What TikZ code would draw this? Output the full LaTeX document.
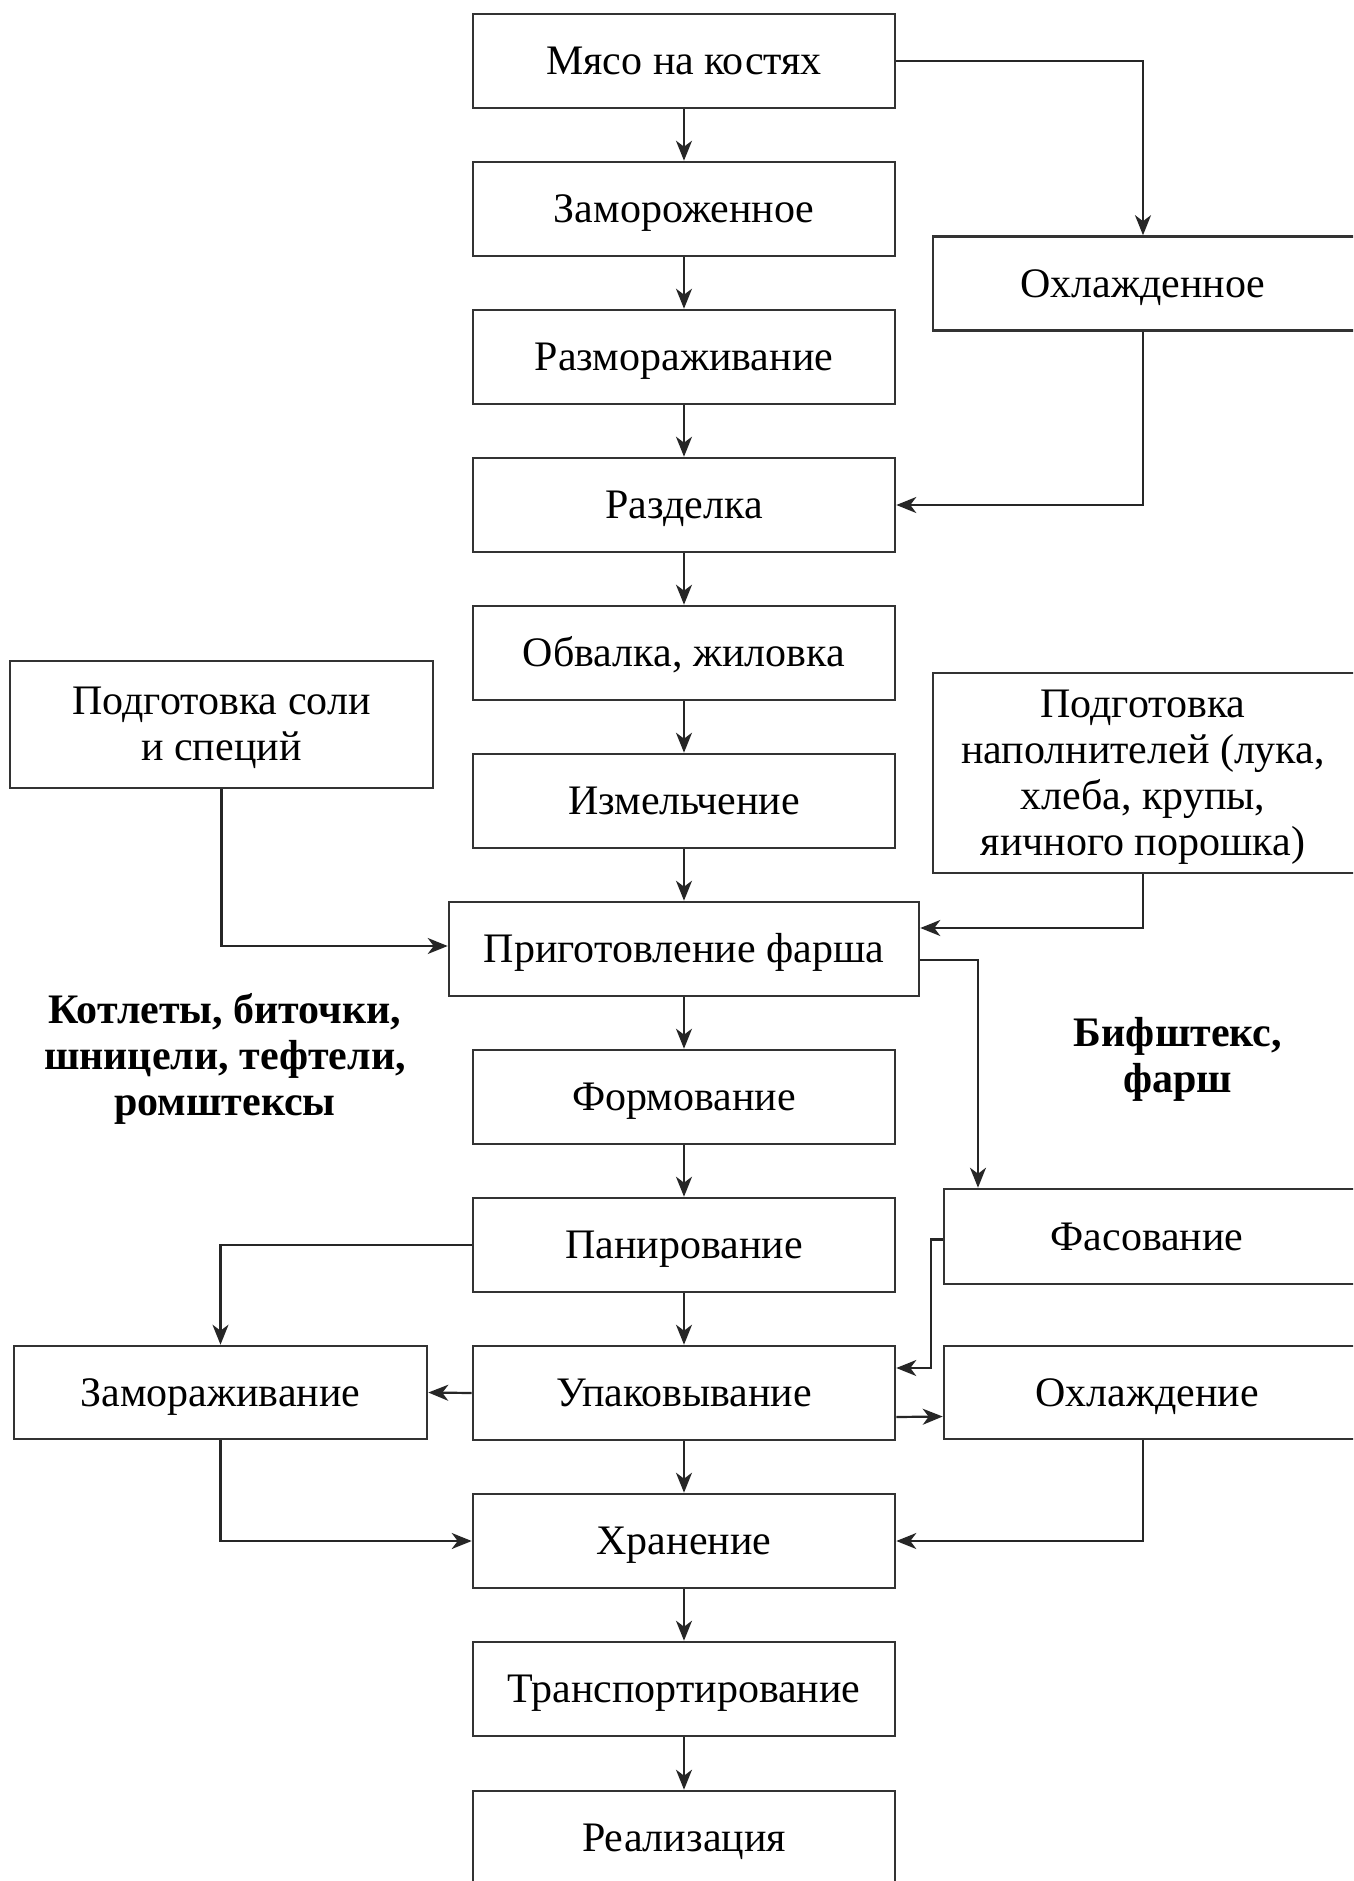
\documentclass[tikz,border=0pt]{standalone}
\usepackage{fontspec}
\setmainfont{Liberation Serif}
\usetikzlibrary{arrows.meta}
\tikzset{
  box/.style={draw=black!80, line width=2.6pt, rectangle, minimum height=94pt, inner sep=0pt, align=center, font=\fontsize{42}{46}\selectfont},
  one/.style={text height=31pt, text depth=4pt},
  mainbox/.style={box, one, minimum width=422pt},
  rbox/.style={box, minimum width=420pt},
  note/.style={align=center, font=\fontsize{42}{46}\selectfont\bfseries},
  arr/.style={draw=black!85, line width=2.2pt, -{Stealth[length=20pt, width=16pt, inset=6pt]}},
}
\begin{document}
\begin{tikzpicture}[x=1pt, y=-1pt]
\useasboundingbox (0,0) rectangle (1353,1881);
\fill[white] (0,0) rectangle (1353,1881);
\clip (0,0) rectangle (1353,1881);

\node[mainbox] (m1) at (684,61) {Мясо на костях};
\node[mainbox] (m2) at (684,209) {Замороженное};
\node[mainbox] (m3) at (684,357) {Размораживание};
\node[mainbox] (m4) at (684,505) {Разделка};
\node[mainbox] (m5) at (684,653) {Обвалка, жиловка};
\node[mainbox] (m6) at (684,801) {Измельчение};
\node[box, one, minimum width=470pt] (m7) at (684,949) {Приготовление фарша};
\node[mainbox] (m8) at (684,1097) {Формование};
\node[mainbox] (m9) at (684,1245) {Панирование};
\node[mainbox] (m10) at (684,1393) {Упаковывание};
\node[mainbox] (m11) at (684,1541) {Хранение};
\node[mainbox] (m12) at (684,1689) {Транспортирование};
\node[mainbox] (m13) at (684,1838) {Реализация};

\node[rbox, one, minimum width=440pt] (ox) at (1153,283.5) {\hspace*{-20pt}Охлажденное};
\node[rbox, minimum width=440pt, minimum height=200pt, text height=168pt, text depth=4pt] (nap) at (1153,773) {\hspace*{-20pt}Подготовка\\\hspace*{-20pt}наполнителей (лука,\\\hspace*{-20pt}хлеба, крупы,\\\hspace*{-20pt}яичного порошка)};
\node[rbox, one, minimum width=418pt, minimum height=95pt] (fas) at (1153,1236.5) {\hspace*{-12pt}Фасование};
\node[rbox, one, minimum width=418pt, minimum height=93pt] (ohl) at (1153,1392.5) {\hspace*{-12pt}Охлаждение};

\node[box, minimum width=423pt, minimum height=127pt, text height=76pt, text depth=4pt] (sol) at (221.5,724.5) {Подготовка соли\\и специй};
\node[box, one, minimum width=413pt, minimum height=93pt] (zam) at (220.5,1392.5) {Замораживание};

\node[note] (kot) at (225,1059) {Котлеты, биточки,\\шницели, тефтели,\\ромштексы};
\node[note] (bif) at (1178,1059) {Бифштекс,\\фарш};

\coordinate (rc) at (1143,0);

\foreach \a/\b in {m1/m2,m2/m3,m3/m4,m4/m5,m5/m6,m6/m7,m7/m8,m8/m9,m9/m10,m10/m11,m11/m12,m12/m13}
  \draw[arr] (\a.south) -- (\b.north);

\draw[arr] (m1.east) -| (ox.north -| rc);
\draw[arr] (ox.south -| rc) |- (m4.east);
\draw[arr] (sol.south) |- ([yshift=3pt]m7.west);
\draw[arr] (nap.south -| rc) |- ([yshift=21pt]m7.east);
\draw[arr] ([yshift=-11pt]m7.east) -| ([xshift=-175pt]fas.north);
\draw[arr] (m9.west) -| (zam.north);
\draw[arr] ([yshift=-3pt]fas.west) -- ++(-12,0) |- ([yshift=25pt]m10.east);
\draw[arr] (m10.west) -- (zam.east);
\draw[arr] ([yshift=-24pt]m10.east) -- ([yshift=-24pt]ohl.west);
\draw[arr] (zam.south) |- (m11.west);
\draw[arr] (ohl.south -| rc) |- (m11.east);
\end{tikzpicture}
\end{document}
